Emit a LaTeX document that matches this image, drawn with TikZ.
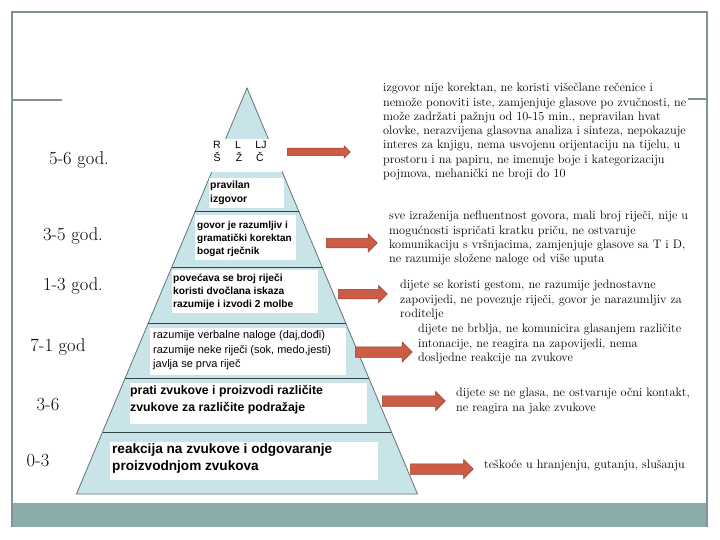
\documentclass[tikz,border=0pt]{standalone}
\usepackage{fontspec}
\newfontfamily\arialfont{Liberation Sans}
\usepackage{tikz}
\usetikzlibrary{shapes.arrows}
\usepackage{xcolor}
\definecolor{pyrfill}{RGB}{200,228,232}
\definecolor{pyredge}{RGB}{95,115,120}
\definecolor{layerline}{RGB}{55,65,70}
\definecolor{framegray}{RGB}{130,145,150}
\definecolor{bandteal}{RGB}{140,172,172}
\definecolor{arrowfill}{RGB}{205,92,70}
\definecolor{arrowline}{RGB}{150,62,48}

\tikzset{
  frameline/.style={framegray, line width=1.2pt},
  lvltext/.style={anchor=north west, align=left, inner sep=0pt},
  notetext/.style={anchor=north west, align=left, inner sep=0pt,
    font=\fontsize{12.3}{14.3}\selectfont},
  agelabel/.style={inner sep=0pt, font=\fontsize{18.5}{22}\selectfont},
  letter/.style={inner sep=0pt, font=\arialfont\fontsize{10.5}{12}\selectfont},
  blockarrow/.style={single arrow, fill=arrowfill, draw=arrowline, line width=0.5pt,
    anchor=tail, inner xsep=0pt, inner ysep=5pt, single arrow head extend=4.5pt,
    minimum height=63pt},
}

\begin{document}
\begin{tikzpicture}[x=1pt, y=-1pt]
  \useasboundingbox (0,0) rectangle (720,540);

  % --- slide frame ---
  \fill[bandteal] (12,503) rectangle (707,527);
  \draw[frameline] (12,527) -- (12,12) -- (707,12) -- (707,527);
  \draw[frameline] (12,100) -- (62,100);
  \draw[frameline] (688,99) -- (707,99);

  % --- pyramid ---
  \coordinate (apex) at (247,88);
  \coordinate (baseL) at (76.5,494);
  \coordinate (baseR) at (417.5,494);
  \filldraw[fill=pyrfill, draw=pyredge, line width=0.8pt] (apex) -- (baseL) -- (baseR) -- cycle;
  \foreach \y in {211,267,323,378,432}{
    \pgfmathsetmacro{\hw}{0.42*(\y-88)}
    \draw[layerline, line width=0.8pt] (247-\hw,\y) -- (247+\hw,\y);
  }

  % white boxes of the layers
  \fill[white] (211,139) rectangle (282,172);
  \fill[white] (209,178) rectangle (284,208);
  \fill[white] (195,215) rectangle (296,260);
  \fill[white] (172,270) rectangle (318,313);
  \fill[white] (150,328) rectangle (346,375);
  \fill[white] (130,383) rectangle (367,424);
  \fill[white] (110,442) rectangle (378,480);

  % top layer: letters
  \node[letter] (r) at (217,145) {R};
  \node[letter] (l) at (238,145) {L};
  \node[letter] (lj) at (261,145) {LJ};
  \node[letter] (s) at (217,157) {Š};
  \node[letter] (z) at (239,157) {Ž};
  \node[letter] (c) at (260,157) {Č};

  % layer texts
  \node[lvltext, font=\arialfont\bfseries\fontsize{10.4}{13.5}\selectfont] (lay1) at (210,181)
    {pravilan\\izgovor};
  \node[lvltext, font=\arialfont\bfseries\fontsize{10}{13}\selectfont] (lay2) at (197,221.3)
    {govor je razumljiv i\\gramatički korektan\\bogat rječnik};
  \node[lvltext, font=\arialfont\bfseries\fontsize{10.2}{13}\selectfont] (lay3) at (173,273.2)
    {povećava se broj riječi\\koristi dvočlana iskaza\\razumije i izvodi 2 molbe};
  \node[lvltext, font=\arialfont\fontsize{11}{14.5}\selectfont] (lay4) at (153,330.8)
    {razumije verbalne naloge (daj,dođi)\\razumije neke riječi (sok, medo,jesti)\\javlja se prva riječ};
  \node[lvltext, font=\arialfont\bfseries\fontsize{12.3}{17}\selectfont] (lay5) at (130,385.2)
    {prati zvukove i proizvodi različite\\zvukove za različite podražaje};
  \node[lvltext, font=\arialfont\bfseries\fontsize{13.6}{17}\selectfont] (lay6) at (112,443.6)
    {reakcija na zvukove i odgovaranje\\proizvodnjom zvukova};

  % ages
  \node[agelabel] (age1) at (79,160) {5-6 god.};
  \node[agelabel] (age2) at (73,236) {3-5 god.};
  \node[agelabel] (age3) at (73,286) {1-3 god.};
  \node[agelabel] (age4) at (58,347) {7-1 god};
  \node[agelabel] (age5) at (48,405) {3-6};
  \node[agelabel] (age6) at (38,461) {0-3};

  % arrows
  \node[blockarrow, inner ysep=3.5pt, single arrow head extend=2.5pt] (arr1) at (287,152) {};
  \node[blockarrow, minimum height=51pt, inner ysep=4.5pt] (arr2) at (326,243) {};
  \node[blockarrow, minimum height=49pt, inner ysep=4.5pt, single arrow head extend=4pt] (arr3) at (338,294) {};
  \node[blockarrow, minimum height=57pt, single arrow head extend=5pt] (arr4) at (355,352) {};
  \node[blockarrow] (arr5) at (382,401) {};
  \node[blockarrow] (arr6) at (410,469) {};

  % notes
  \node[notetext] (note1) at (383,83)
    {izgovor nije korektan, ne koristi višečlane rečenice i\\
     nemože ponoviti iste, zamjenjuje glasove po zvučnosti, ne\\
     može zadržati pažnju od 10-15 min., nepravilan hvat\\
     olovke, nerazvijena glasovna analiza i sinteza, nepokazuje\\
     interes za knjigu, nema usvojenu orijentaciju na tijelu, u\\
     prostoru i na papiru, ne imenuje boje i kategorizaciju\\
     pojmova, mehanički ne broji do 10};
  \node[notetext] (note2) at (389,211)
    {sve izraženija nefluentnost govora, mali broj riječi, nije u\\
     mogućnosti ispričati kratku priču, ne ostvaruje\\
     komunikaciju s vršnjacima, zamjenjuje glasove sa T i D,\\
     ne razumije složene naloge od više uputa};
  \node[notetext] (note3) at (400,280)
    {dijete se koristi gestom, ne razumije jednostavne\\
     zapovijedi, ne povezuje riječi, govor je narazumljiv za\\
     roditelje};
  \node[notetext] (note4) at (418,324)
    {dijete ne brblja, ne komunicira glasanjem različite\\
     intonacije, ne reagira na zapovijedi, nema\\
     dosljedne reakcije na zvukove};
  \node[notetext] (note5) at (456,388)
    {dijete se ne glasa, ne ostvaruje očni kontakt,\\
     ne reagira na jake zvukove};
  \node[notetext] (note6) at (484,460)
    {teškoće u hranjenju, gutanju, slušanju};
\end{tikzpicture}
\end{document}
